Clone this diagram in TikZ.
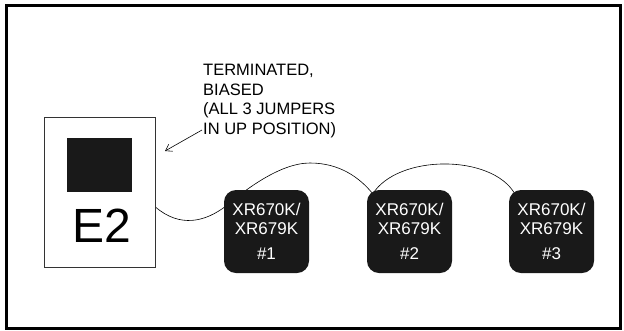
\documentclass[tikz,border=0pt]{standalone}
\usepackage{fontspec}
\setmainfont{Liberation Sans}
\usetikzlibrary{arrows.meta,backgrounds}

\tikzset{
    chipbox/.style={fill=black!90, text=white, rounded corners=12pt,
        minimum width=85pt, minimum height=83pt, inner sep=0pt,
        align=center, font=\fontsize{17}{19}\selectfont},
    wire/.style={line width=0.6pt},
}

\begin{document}
\begin{tikzpicture}[x=1pt,y=-1pt]
    \useasboundingbox (0,0) rectangle (624,330);
    \draw[line width=3pt] (6.5,5) rectangle (620,328.5);

    \node[draw=black!80, line width=0.8pt, minimum width=111pt, minimum height=150pt] (e2) at (99.5,192) {};
    \node[fill=black!90, minimum width=65pt, minimum height=54pt, inner sep=0pt] (pad) at (99.5,165) {};
    \node[anchor=base, inner sep=0pt, font=\fontsize{48}{48}\selectfont] (e2label) at (101.5,242) {E2};

    \node[anchor=north west, align=left, inner sep=0pt, font=\fontsize{16.5}{19.5}\selectfont] (note) at (203,64)
        {TERMINATED,\\BIASED\\(ALL 3 JUMPERS\\IN UP POSITION)};
    \coordinate (tail) at (202,130);
    \coordinate (tip) at (165,151);
    \draw[wire, -{Straight Barb[length=6pt,width=8pt]}] (tail) -- (tip);

    \node[chipbox] (chip1) at (266.5,231.5) {XR670K/\\XR679K\\[6pt]\#1};
    \node[chipbox] (chip2) at (409.5,231.5) {XR670K/\\XR679K\\[6pt]\#2};
    \node[chipbox] (chip3) at (551.5,231.5) {XR670K/\\XR679K\\[6pt]\#3};

    \begin{pgfonlayer}{background}
    \draw[wire] ([yshift=-15pt]e2.east) .. controls (180,228) and (205,222) .. (226,206)
        .. controls (245,190) and (280,163) .. (310,163)
        .. controls (340,163) and (360,178) .. ([shift={(6,4)}]chip2.north west);
    \draw[wire] ([shift={(6,4)}]chip2.north west) .. controls (398,154) and (492,154) .. ([shift={(6,4)}]chip3.north west);
    \end{pgfonlayer}

\end{tikzpicture}
\end{document}
